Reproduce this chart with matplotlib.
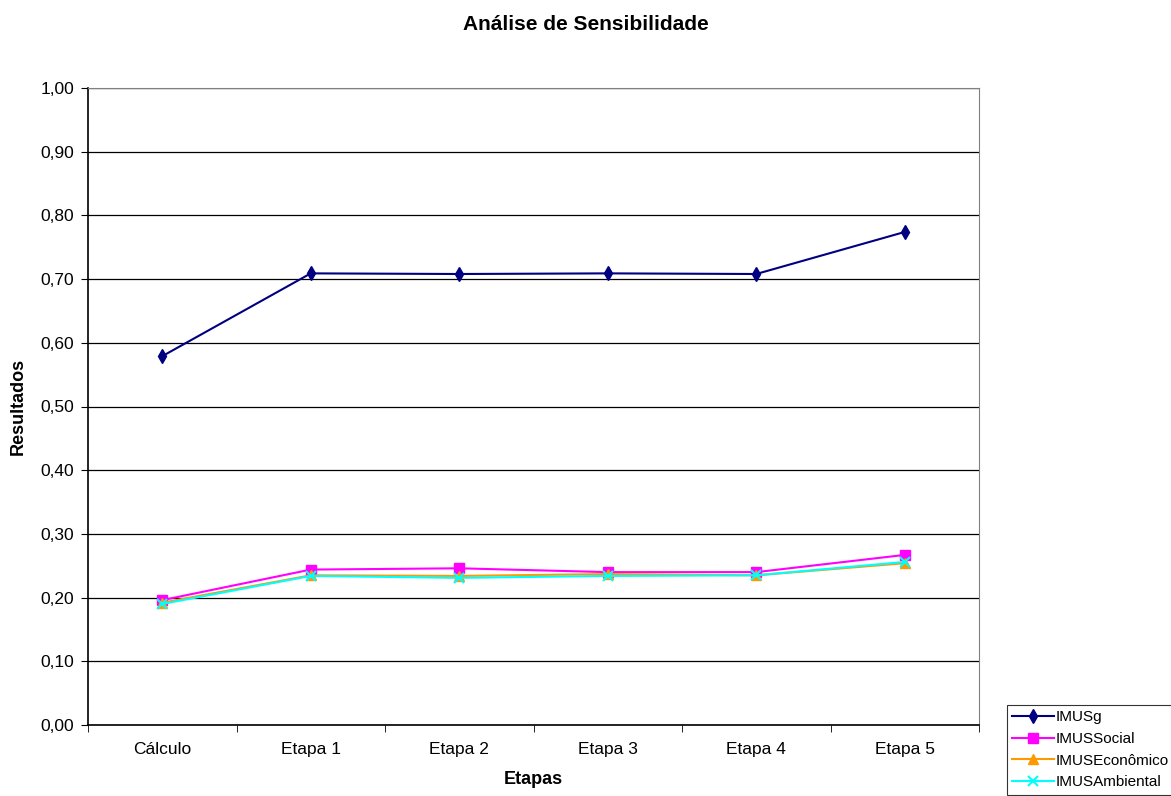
import matplotlib.pyplot as plt
from matplotlib.ticker import FixedLocator, FuncFormatter

plt.rcParams['font.family'] = ['Liberation Sans', 'DejaVu Sans']

etapas = ['Cálculo', 'Etapa 1', 'Etapa 2', 'Etapa 3', 'Etapa 4', 'Etapa 5']
imus_g = [0.579, 0.709, 0.708, 0.709, 0.708, 0.774]
imus_social = [0.196, 0.244, 0.246, 0.240, 0.240, 0.267]
imus_economico = [0.192, 0.235, 0.234, 0.237, 0.235, 0.254]
imus_ambiental = [0.190, 0.234, 0.231, 0.234, 0.235, 0.256]

fig = plt.figure(figsize=(11.71, 7.96), dpi=100)
ax = fig.add_axes([88 / 1171, 1 - 725 / 796, (979 - 88) / 1171, (725 - 88) / 796])

x = list(range(len(etapas)))
ax.plot(x, imus_g, color='#000080', marker='d', markersize=7.5, lw=1.5, label='IMUSg')
ax.plot(x, imus_social, color='#FF00FF', marker='s', markersize=6.5, lw=1.5, label='IMUSSocial')
ax.plot(x, imus_economico, color='#FF9900', marker='^', markersize=7, lw=1.5, label='IMUSEconômico')
ax.plot(x, imus_ambiental, color='#00FFFF', marker='x', markersize=6.5, mew=1.5, lw=1.5, label='IMUSAmbiental')

ax.set_xlim(-0.5, len(etapas) - 0.5)
ax.set_ylim(0, 1)
ax.set_yticks([i / 10 for i in range(11)])
ax.yaxis.set_major_formatter(FuncFormatter(lambda v, p: f'{v:.2f}'.replace('.', ',')))
ax.yaxis.grid(True, color='black', lw=0.9)
ax.set_axisbelow(True)

ax.set_xticks(x)
ax.set_xticklabels(etapas)
ax.xaxis.set_minor_locator(FixedLocator([i - 0.5 for i in range(len(etapas) + 1)]))
ax.tick_params(axis='x', which='major', length=0, pad=12, labelsize=12.5)
ax.tick_params(axis='x', which='minor', length=5, direction='out', color='black')
ax.tick_params(axis='y', length=5, direction='out', labelsize=12.5, pad=5)

for s in ['left', 'bottom']:
    ax.spines[s].set_color('black')
    ax.spines[s].set_linewidth(1.2)
for s in ['top', 'right']:
    ax.spines[s].set_color('#808080')

ax.set_xlabel('Etapas', fontweight='bold', fontsize=13, labelpad=10)
ax.set_ylabel('Resultados', fontweight='bold', fontsize=13, labelpad=10)
fig.text(586 / 1171, 1 - 25 / 796, 'Análise de Sensibilidade', ha='center', va='center',
         fontweight='bold', fontsize=15)

leg = fig.legend(loc='upper left', bbox_to_anchor=(1007 / 1171, 1 - 705 / 796), fontsize=11,
                 frameon=True, fancybox=False, edgecolor='black', handlelength=2.7,
                 handletextpad=0.15, labelspacing=0.5, borderpad=0.35, borderaxespad=0)
leg.get_frame().set_linewidth(0.8)

fig.savefig('out.png', dpi=100)
